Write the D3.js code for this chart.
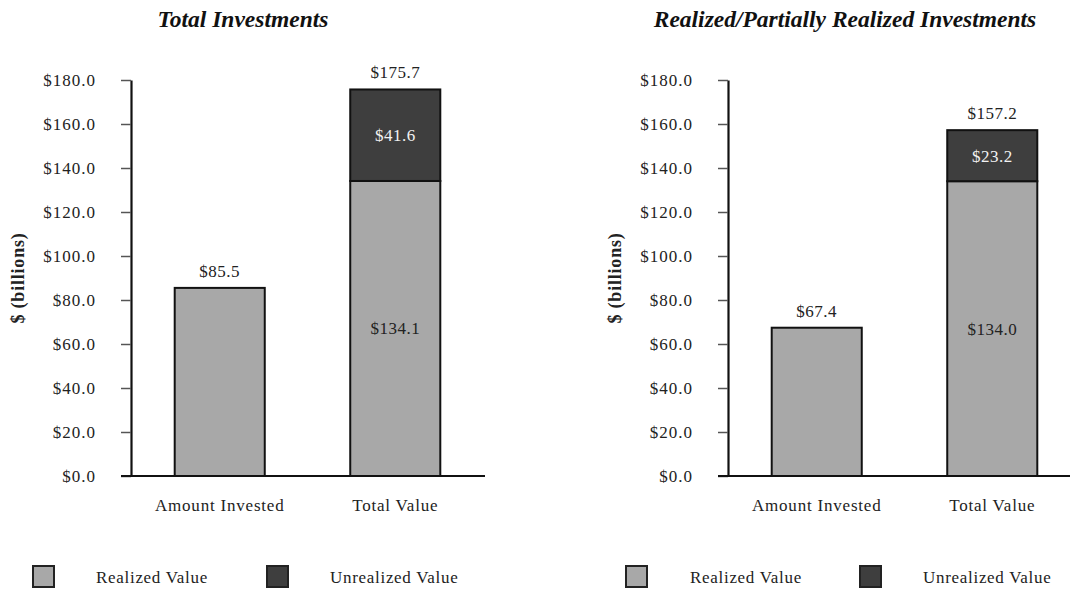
<!DOCTYPE html>
<html>
<head>
<meta charset="utf-8">
<script src="https://cdn.jsdelivr.net/npm/d3@7"></script>
<style>
  html, body { margin: 0; padding: 0; background: #fff; }
  svg { display: block; }
  text { font-family: "Liberation Serif", "Times New Roman", serif; fill: #222; }
</style>
</head>
<body>
<svg id="chart" width="1070" height="591"></svg>
<script>
// ---- data ----
const categories = ["Amount Invested", "Total Value"];
const panelTitles = ["Total Investments", "Realized/Partially Realized Investments"];
const seriesNames = ["Realized Value", "Unrealized Value"];
const totalRealized = [85.5, 134.1];
const totalUnrealized = [0, 41.6];
const partialRealized = [67.4, 134.0];
const partialUnrealized = [0, 23.2];
const yTicks = [0, 20, 40, 60, 80, 100, 120, 140, 160, 180];
const yAxisTitle = "$ (billions)";

const colors = { "Realized Value": "#a8a8a8", "Unrealized Value": "#3e3e3e" };

const panels = [
  { title: panelTitles[0], realized: totalRealized, unrealized: totalUnrealized, x0: 0 },
  { title: panelTitles[1], realized: partialRealized, unrealized: partialUnrealized, x0: 597 }
];

const svg = d3.select("#chart");
const fmt = v => "$" + d3.format(".1f")(v);

const y = d3.scaleLinear().domain([0, 180]).range([476, 80]);
const x = d3.scaleBand().domain(categories).range([131, 484]).paddingInner(0.487).paddingOuter(0.249).align(0.5);

panels.forEach((p, pi) => {
  const g = svg.append("g").attr("transform", `translate(${p.x0},0)`);

  // title
  g.append("text")
    .attr("x", pi === 0 ? 243 : 248)
    .attr("y", 27)
    .attr("text-anchor", "middle")
    .style("font-weight", "bold")
    .style("font-style", "italic")
    .style("font-size", "23.5px")
    .style("fill", "#111")
    .text(p.title);

  // y axis
  const yAxis = d3.axisLeft(y).tickValues(yTicks).tickSize(10).tickSizeOuter(0).tickPadding(25).tickFormat(fmt);
  const ya = g.append("g").attr("transform", "translate(131,0)").call(yAxis);
  ya.select(".domain").attr("stroke", "#111").attr("stroke-width", 2.2);
  ya.selectAll(".tick line").attr("stroke", "#555").attr("stroke-width", 1.5);
  ya.selectAll(".tick text")
    .style("font-size", "17px")
    .style("font-family", "'Liberation Serif', serif")
    .style("letter-spacing", "1px")
    .attr("fill", "#333");

  // x axis baseline
  g.append("line")
    .attr("x1", 121).attr("x2", 485)
    .attr("y1", y(0)).attr("y2", y(0))
    .attr("stroke", "#111").attr("stroke-width", 2.2);

  // y-axis title
  g.append("text")
    .attr("transform", `translate(24,${(y(0) + y(180)) / 2}) rotate(-90)`)
    .attr("text-anchor", "middle")
    .style("font-weight", "bold")
    .style("font-size", "18px")
    .style("letter-spacing", "0.8px")
    .text(yAxisTitle);

  // stacked bars
  const rows = categories.map((c, i) => ({ cat: c, "Realized Value": p.realized[i], "Unrealized Value": p.unrealized[i] }));
  const stack = d3.stack().keys(seriesNames)(rows);

  stack.forEach(layer => {
    g.append("g").selectAll("rect")
      .data(layer.filter(d => d[1] - d[0] > 0))
      .join("rect")
      .attr("x", d => x(d.data.cat))
      .attr("width", x.bandwidth())
      .attr("y", d => y(d[1]))
      .attr("height", d => y(d[0]) - y(d[1]))
      .attr("fill", colors[layer.key])
      .attr("stroke", "#111")
      .attr("stroke-width", 2);
  });

  // segment labels inside stacked bar (only for multi-segment bars)
  rows.forEach((r, i) => {
    const cx = x(r.cat) + x.bandwidth() / 2;
    const total = r["Realized Value"] + r["Unrealized Value"];
    if (r["Unrealized Value"] > 0) {
      stack.forEach(layer => {
        const d = layer[i];
        g.append("text")
          .attr("x", cx)
          .attr("y", (y(d[0]) + y(d[1])) / 2 + 6)
          .attr("text-anchor", "middle")
          .style("font-size", "17px")
          .style("letter-spacing", "0.5px")
          .style("fill", layer.key === "Unrealized Value" ? "#f2f2f2" : "#222")
          .text(fmt(d[1] - d[0]));
      });
    }
    g.append("text")
      .attr("x", cx)
      .attr("y", y(total) - 11)
      .attr("text-anchor", "middle")
      .style("font-size", "17px")
      .style("letter-spacing", "0.5px")
      .text(fmt(total));
  });

  // category labels
  g.append("g").selectAll("text")
    .data(categories)
    .join("text")
    .attr("x", d => x(d) + x.bandwidth() / 2)
    .attr("y", 511)
    .attr("text-anchor", "middle")
    .style("font-size", "17px")
    .style("letter-spacing", "0.8px")
    .text(d => d);

  // legend
  const legX = pi === 0 ? [33, 267] : [29, 263];
  const legTextX = pi === 0 ? [96, 330] : [93, 326];
  seriesNames.forEach((s, si) => {
    g.append("rect")
      .attr("x", legX[si]).attr("y", 566)
      .attr("width", 21).attr("height", 21)
      .attr("fill", colors[s])
      .attr("stroke", "#222").attr("stroke-width", 2);
    g.append("text")
      .attr("x", legTextX[si]).attr("y", 583)
      .style("font-size", "17px")
      .style("letter-spacing", "0.7px")
      .text(s);
  });
});
</script>
</body>
</html>
